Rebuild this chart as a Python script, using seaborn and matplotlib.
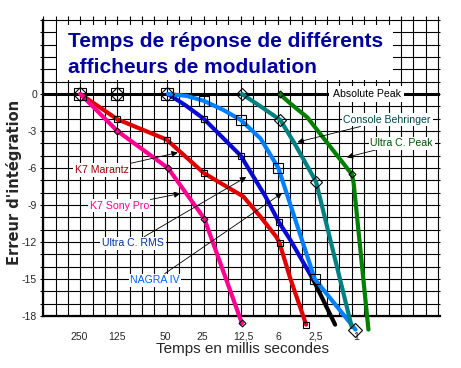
import numpy as np
import matplotlib
matplotlib.use('Agg')
import matplotlib.pyplot as plt
import seaborn as sns
from matplotlib.patches import Rectangle

# x = position along the time axis in grid columns (one column = one square), y = error in dB
x_ticks = [2.92, 5.95, 9.87, 12.9, 16.2, 19.05, 22.1, 25.35]
x_tick_labels = ['250', '125', '50', '25', '12,5', '6', '2,5', '1']
y_ticks = [0, -3, -6, -9, -12, -15, -18]
y_tick_labels = ['0', '-3', '-6', '-9', '-12', '-15', '-18']

title_lines = ['Temps de réponse de différents', 'afficheurs de modulation']

top_marks_x = [3, 6, 10]

marantz_x = [3, 6, 10, 13, 15, 16.2, 17.6, 18.9, 19.15, 20, 21.3]
marantz_y = [0, -2.05, -3.7, -6.4, -7.6, -8.3, -9.95, -11.6, -12.1, -14.9, -18.7]

sony_x = [3, 6, 10.1, 13.05, 16.1]
sony_y = [0, -3, -6, -10.1, -18.6]

rms_x = [10.1, 11.5, 13, 16, 16.6, 18, 19.1, 20, 21.9]
rms_y = [0, -0.9, -2, -5, -6, -8.3, -10.4, -11.8, -15.1]
rms_tail_x = [21.9, 23.65]
rms_tail_y = [-15.1, -18.7]

nagra_x = [10.1, 11.6, 13, 14.6, 16, 17.6, 19.05, 22, 25.3]
nagra_y = [0, -0.15, -0.55, -1.3, -2.1, -3.6, -6, -15, -19.1]

behringer_x = [16.1, 17.6, 19.2, 20.3, 22.1, 25.0]
behringer_y = [0, -1.0, -2.1, -3.9, -7.1, -18.9]

peak_x = [19.15, 20.0, 21.4, 25.0, 25.15, 26.35]
peak_y = [0, -0.75, -1.9, -6.5, -7.2, -19.1]

sns.set_theme(style='white')
plt.rcParams['font.family'] = ['Liberation Sans', 'DejaVu Sans']

fig = plt.figure(figsize=(4.61, 3.68), dpi=100)
ax = fig.add_axes([43.3 / 461, 52 / 368, 396.7 / 461, 296 / 368])
ax.set_xlim(0, 32.15)
ax.set_ylim(-18, 6)

# grid (one line per square, a bit past the top and the left edge)
ax.vlines(np.arange(0, 33), -18, 6.35, color='black', lw=0.8, zorder=0.5, clip_on=False)
ax.hlines(np.arange(-18, 7), -0.3, 32.15, color='black', lw=0.8, zorder=0.5, clip_on=False)
ax.add_patch(Rectangle((1.1, 1.12), 27.25, 4.5, fc='white', ec='none', zorder=1))
ax.text(2.0, 3.84, title_lines[0], fontsize=15, fontweight='bold', color='#0000a0',
        va='baseline', ha='left', zorder=2)
ax.text(2.0, 1.73, title_lines[1], fontsize=15, fontweight='bold', color='#0000a0',
        va='baseline', ha='left', zorder=2)

# absolute peak
ax.axhline(0, color='black', lw=2.2, zorder=2)

curves = [
    (marantz_x, marantz_y, '#e00000', [1, 2, 3, 8, 10], 's', 4),
    (sony_x, sony_y, '#ff0090', [1, 2, 3, 4], 'D', 3.5),
    (rms_x, rms_y, '#0a0ad0', [2, 3, 6], 's', 4),
    (rms_tail_x, rms_tail_y, 'black', [], 's', 4),
    (nagra_x, nagra_y, '#0080ff', [2, 4, 6, 7], 's', 7.5),
    (behringer_x, behringer_y, '#008080', [0, 2, 4], 'D', 6),
    (peak_x, peak_y, '#008000', [0, 3], 'D', 3.5),
]
for x, y, color, marks, marker, size in curves:
    sns.lineplot(x=x, y=y, color=color, lw=3, sort=False, estimator=None,
                 ax=ax, zorder=3, clip_on=False)
    if marks:
        ax.plot(np.array(x)[marks], np.array(y)[marks], ls='none', marker=marker,
                ms=size, mfc='none', mec='black', mew=0.8, zorder=4, clip_on=False)
ax.plot(nagra_x[-1], nagra_y[-1], ls='none', marker='D', ms=7, mfc='none',
        mec='black', mew=0.8, zorder=4, clip_on=False)
for xm in top_marks_x:
    ax.plot(xm, 0, ls='none', marker='s', ms=8, mfc='none', mec='black', mew=0.8, zorder=4)
    ax.plot(xm, 0, ls='none', marker='D', ms=7, mfc='none', mec='black', mew=0.8, zorder=4)

box = dict(boxstyle='square,pad=0.15', fc='white', ec='none')
arrow = dict(arrowstyle='-|>', color='black', lw=0.6, mutation_scale=9, shrinkA=0, shrinkB=0)
labels = [
    ('K7 Marantz', (10.9, -4.75), (4.72, -6.16), '#a00000'),
    ('K7 Sony Pro', (11.1, -8.07), (6.15, -9.06), '#ff0090'),
    ('Ultra C. RMS', (16.45, -6.73), (7.27, -12.1), '#0030a0'),
    ('NAGRA IV', (19.36, -8.03), (9.06, -15.1), '#0060ff'),
    ('Console Behringer', (20.6, -3.9), (27.87, -2.1), '#004848'),
    ('Ultra C. Peak', (24.6, -5.13), (29.05, -4.0), '#005000'),
]
for text, xy, xytext, color in labels:
    ax.annotate(text, xy=xy, xytext=xytext, color=color, fontsize=7.6, ha='center',
                va='center', bbox=box, arrowprops=arrow, zorder=5)
ax.text(26.2, 0, 'Absolute Peak', fontsize=7.6, color='black', ha='center', va='center',
        bbox=dict(boxstyle='square,pad=0.3', fc='white', ec='none'), zorder=5)

ax.set_xticks(x_ticks)
ax.set_xticklabels(x_tick_labels, fontsize=7.5)
ax.set_yticks(y_ticks)
ax.set_yticklabels(y_tick_labels, fontsize=7.5)
ax.tick_params(axis='x', length=0, pad=11.5)
ax.tick_params(axis='y', length=0, pad=4.5)

ax.set_xlabel('Temps en millis secondes', fontsize=11)
ax.xaxis.set_label_coords(0.503, -0.088)
ax.set_ylabel("Erreur d'intégration", fontsize=10.5, fontweight='bold',
              family=['DejaVu Sans'])
ax.yaxis.set_label_coords(-0.053, 0.451)

for side in ['top', 'right']:
    ax.spines[side].set_visible(False)
for side in ['left', 'bottom']:
    ax.spines[side].set_linewidth(1.6)
    ax.spines[side].set_color('black')
    ax.spines[side].set_zorder(2.5)

fig.savefig('out.png', dpi=100)
